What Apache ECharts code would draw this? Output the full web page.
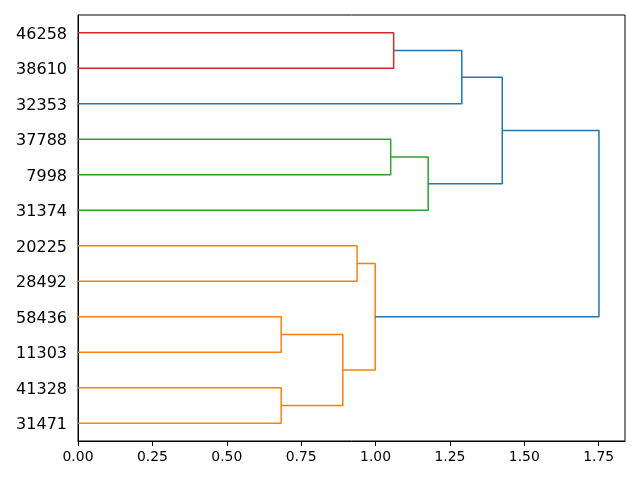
<!DOCTYPE html>
<html>
<head>
<meta charset="utf-8">
<script src="https://cdn.jsdelivr.net/npm/echarts@6/dist/echarts.min.js"></script>
<style>html,body{margin:0;padding:0;background:#fff}#c{width:640px;height:480px}</style>
</head>
<body>
<div id="c"></div>
<script>
// Leaves, bottom to top
var leafLabels = ['31471','41328','11303','58436','28492','20225','31374','7998','37788','32353','38610','46258'];
// Links: children ids (leaf index < 12, link k has id 12+k), merge height, colour
var linkLeft   = [0, 2, 12, 4, 14, 7, 6, 10, 9, 18, 16];
var linkRight  = [1, 3, 13, 5, 15, 8, 17, 11, 19, 20, 21];
var linkHeight = [0.683, 0.683, 0.890, 0.938, 0.999, 1.051, 1.177, 1.061, 1.290, 1.426, 1.751];
var linkColor  = ['#ff7f0e','#ff7f0e','#ff7f0e','#ff7f0e','#ff7f0e','#2ca02c','#2ca02c','#d62728','#1f77b4','#1f77b4','#1f77b4'];
var xTicks = [0, 0.25, 0.5, 0.75, 1.0, 1.25, 1.5, 1.75];

var n = leafLabels.length;
var posY = [], posX = [];
for (var i = 0; i < n; i++) { posY.push(10 * i + 5); posX.push(0); }
var series = [];
for (var k = 0; k < linkHeight.length; k++) {
  var a = linkLeft[k], b = linkRight[k], h = linkHeight[k];
  series.push({
    type: 'line', yAxisIndex: 1, symbol: 'none', silent: true, animation: false,
    lineStyle: { color: linkColor[k], width: 1.5 },
    data: [[posX[a], posY[a]], [h, posY[a]], [h, posY[b]], [posX[b], posY[b]]]
  });
  posY.push((posY[a] + posY[b]) / 2);
  posX.push(h);
}
var maxH = Math.max.apply(null, linkHeight) * 1.05;

var chart = echarts.init(document.getElementById('c'), null, { renderer: 'canvas' });
chart.setOption({
  backgroundColor: '#fff',
  animation: false,
  grid: { left: 78, right: 15, top: 15, bottom: 39, show: true, borderColor: '#000', borderWidth: 1 },
  xAxis: {
    type: 'value', min: 0, max: maxH,
    splitLine: { show: false },
    axisLine: { lineStyle: { color: '#000', width: 1 } },
    axisTick: { show: true, length: 4.9, lineStyle: { color: '#000' }, customValues: xTicks },
    axisLabel: { color: '#000', fontFamily: 'DejaVu Sans', fontSize: 13.9, margin: 9, customValues: xTicks,
      formatter: function (v) { return v.toFixed(2); } }
  },
  yAxis: [{
    type: 'category', data: leafLabels, boundaryGap: true,
    axisLine: { lineStyle: { color: '#000', width: 1 } },
    axisTick: { show: false },
    axisLabel: { color: '#000', fontFamily: 'DejaVu Sans', fontSize: 16, margin: 11, interval: 0,
      formatter: function (v) { return '{a|' + v + '}'; },
      rich: { a: { color: '#000', fontFamily: 'DejaVu Sans', fontSize: 16, padding: [4, 0, 0, 0] } } },
    splitLine: { show: false }
  }, {
    type: 'value', min: 0, max: 120, show: false, splitLine: { show: false }
  }],
  series: series
});
</script>
</body>
</html>
